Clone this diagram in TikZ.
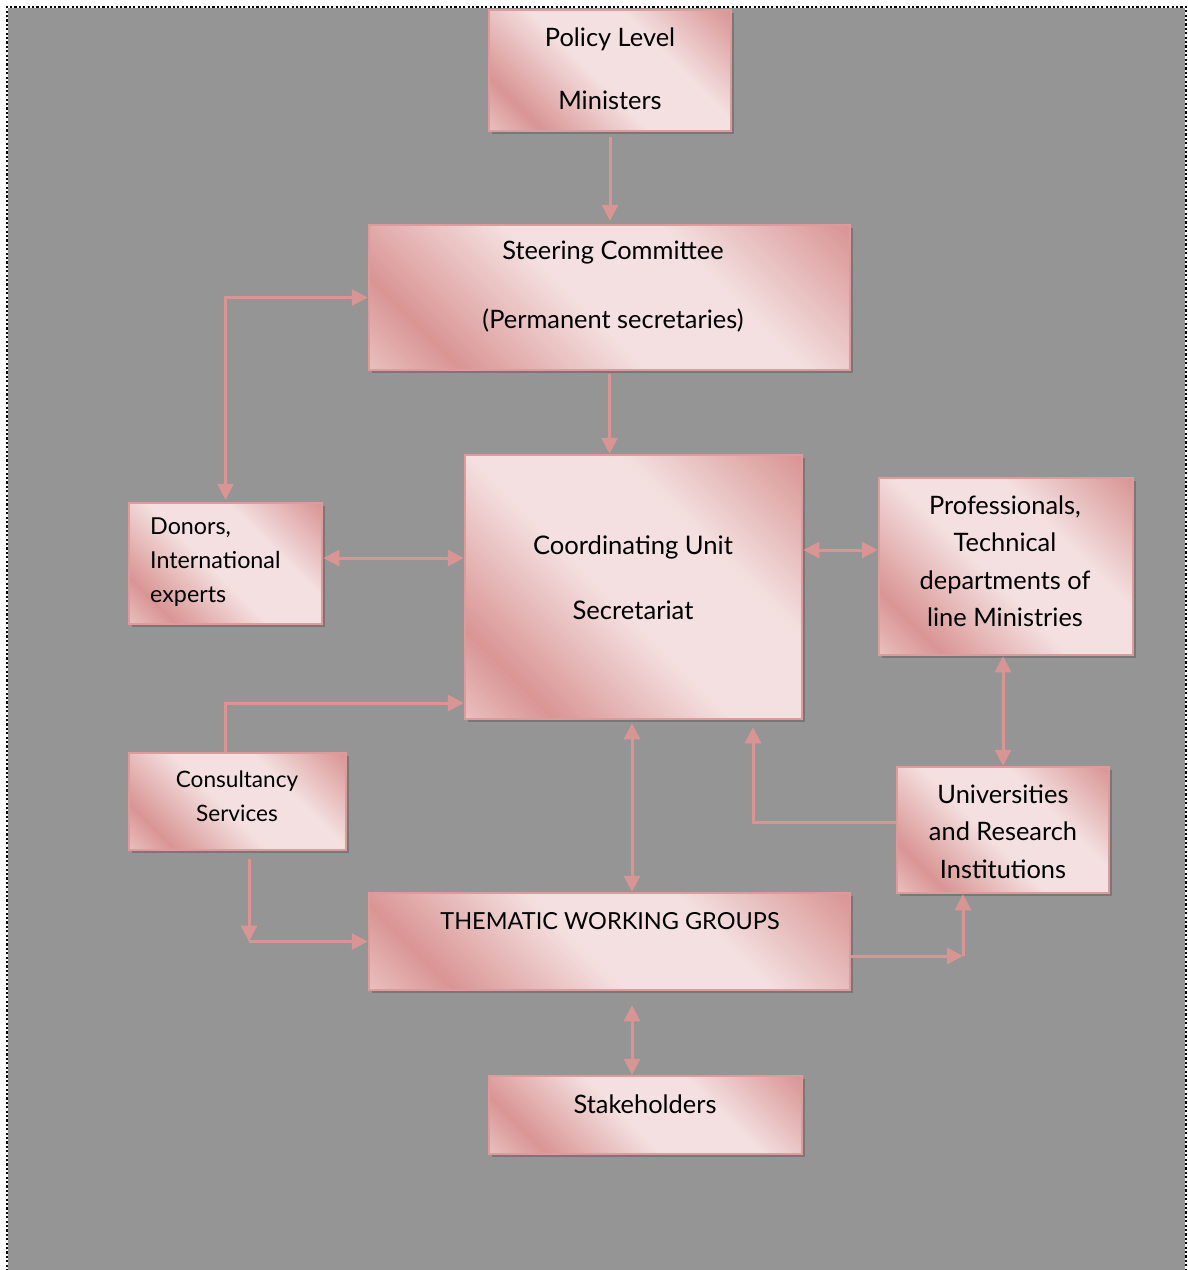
\documentclass[tikz,border=0pt]{standalone}
\usepackage{fontspec}
\setmainfont{Lato}
\usetikzlibrary{arrows.meta,shadows,calc}
\definecolor{bg}{RGB}{149,149,149}
\definecolor{pinkD}{RGB}{217,149,148}
\definecolor{pinkM}{RGB}{232,190,189}
\definecolor{pinkL}{RGB}{244,224,224}
\definecolor{pinkB}{RGB}{222,155,155}
\pgfdeclarehorizontalshading{boxsh}{100bp}{color(0bp)=(pinkD); color(15bp)=(pinkM); color(25bp)=(pinkD); color(46bp)=(pinkL); color(64bp)=(pinkL); color(85bp)=(pinkD); color(100bp)=(pinkD)}
\begin{document}
\begin{tikzpicture}[x=1pt,y=-1pt,
  box/.style={draw=pinkB, line width=2.5pt, shading=boxsh, shading angle=45, inner sep=0pt,
    drop shadow={shadow xshift=3pt, shadow yshift=-3pt, fill=black!60, opacity=0.6}},
  txt/.style={text=black, inner sep=0pt, align=center},
  arr/.style={draw=pinkD, line width=3pt, -{Triangle[length=16pt,width=16pt]}},
  arrb/.style={draw=pinkD, line width=3pt, {Triangle[length=16pt,width=16pt]}-{Triangle[length=16pt,width=16pt]}},
  frame/.style={draw=black, line width=2.6pt, dash pattern=on 2.2pt off 2.2pt}]
\useasboundingbox (0,0) rectangle (1188,1270);
\fill[bg] (8,8) rectangle (1185,1280);
\draw[frame] (7,1280) -- (7,7) -- (1186,7) -- (1186,1280);

% boxes
\node[box, minimum width=242pt, minimum height=121pt] (pol) at (610,70.5) {};
\node[box, minimum width=481pt, minimum height=145pt] (ste) at (609.5,297.5) {};
\node[box, minimum width=337pt, minimum height=264pt] (coo) at (633.5,587) {};
\node[box, minimum width=193pt, minimum height=121pt] (don) at (225.5,563.5) {};
\node[box, minimum width=254pt, minimum height=177pt] (pro) at (1006,566.5) {};
\node[box, minimum width=217pt, minimum height=97pt] (con) at (237.5,801.5) {};
\node[box, minimum width=212pt, minimum height=126pt] (uni) at (1003,830) {};
\node[box, minimum width=481pt, minimum height=97pt] (the) at (609.5,941.5) {};
\node[box, minimum width=313pt, minimum height=78pt] (stk) at (645.5,1115) {};

% texts
\node[txt, font=\fontsize{25.4}{63}\selectfont] (pol-t) at (610,68.5) {Policy Level\\Ministers};
\node[txt, font=\fontsize{25.4}{69}\selectfont] (ste-t) at (613,286.5) {Steering Committee\\(Permanent secretaries)};
\node[txt, font=\fontsize{25.6}{65}\selectfont] (coo-t) at (633,577.5) {Coordinating Unit\\Secretariat};
\node[txt, align=left, anchor=west, font=\fontsize{23.3}{34}\selectfont] (don-t) at (150,562) {Donors,\\International\\experts};
\node[txt, font=\fontsize{25.4}{37.5}\selectfont] (pro-t) at (1005,561) {Professionals,\\Technical\\departments of\\line Ministries};
\node[txt, font=\fontsize{22.6}{34}\selectfont] (con-t) at (237,796) {Consultancy\\Services};
\node[txt, font=\fontsize{25.4}{37.5}\selectfont] (uni-t) at (1003,831.5) {Universities\\and Research\\Institutions};
\node[txt, font=\fontsize{23.5}{29}\selectfont] (the-t) at (610,921) {THEMATIC WORKING GROUPS};
\node[txt, font=\fontsize{25.4}{29}\selectfont] (stk-t) at (645,1104) {Stakeholders};

% helper coordinates
\coordinate (stl) at (ste.west);
\coordinate (donl) at ([yshift=5.5pt]don.east);
\coordinate (proa) at ([yshift=37pt]coo.east);
\coordinate (cont) at ([xshift=-12.5pt]con.north);
\coordinate (cooa) at ([yshift=-116pt]coo.west);
\coordinate (unil) at ([yshift=8pt]uni.west);
\coordinate (coob) at ([xshift=119.5pt]coo.south);
\coordinate (conb) at ([xshift=11.5pt]con.south);
\coordinate (ther) at ([yshift=-14.5pt]the.east);
\coordinate (unib) at ([xshift=-40pt]uni.south);

% connectors
\draw[arr, shorten <=5pt, shorten >=3pt] (pol.south) -- (pol.south |- ste.north);
\draw[arr, shorten <=3pt] (ste.south) -- (ste.south |- coo.north);
\draw[arrb, shorten >=2pt] (stl) -| (don.north);
\draw[arrb] (donl) -- (donl -| coo.west);
\draw[arrb] (proa) -- (proa -| pro.west);
\draw[arrb] (uni.north |- pro.south) -- (uni.north);
\draw[arr] (cont) |- (cooa);
\draw[arrb, shorten <=3pt] ([xshift=-1.5pt]coo.south) -- ([xshift=-1.5pt]coo.south |- the.north);
\draw[arr, shorten >=7pt] (unil) -| (coob);
\draw[arr, shorten <=8pt] (conb) -- (conb |- the.west);
\draw[arr] (conb |- the.west) -- (the.west);
\draw[arr] (ther) -- (ther -| unib);
\draw[arr] (ther -| unib) -- (unib);
\draw[arrb, shorten <=14pt] ([xshift=-1.5pt]coo.south |- the.south) -- ([xshift=-1.5pt]coo.south |- stk.north);
\end{tikzpicture}
\end{document}
